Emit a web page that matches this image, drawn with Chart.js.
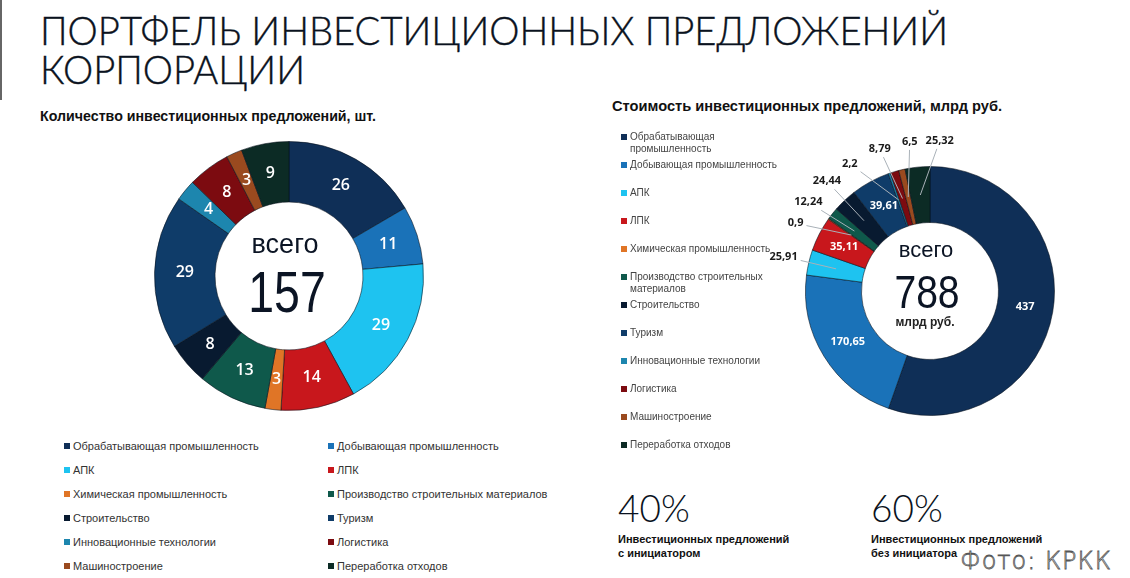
<!DOCTYPE html>
<html lang="ru">
<head>
<meta charset="utf-8">
<title>Портфель инвестиционных предложений корпорации</title>
<script src="https://cdn.jsdelivr.net/npm/chart.js@4.4.1/dist/chart.umd.min.js"></script>
<style>
  html, body { margin: 0; padding: 0; background: #fff; }
  #page { position: relative; width: 1130px; height: 578px; overflow: hidden;
          font-family: "Liberation Sans", Arial, sans-serif; color: #0b1424; }
  .edge { position: absolute; left: 0; top: 0; width: 2px; height: 100px; background: #666; }
  #title { position: absolute; left: 40px; top: 11px; font-family: Lato, "Open Sans", sans-serif;
           font-weight: 300; font-size: 40px; line-height: 39px; white-space: nowrap;
           transform-origin: 0 0; color: #0a1220; -webkit-text-stroke: 0.4px #0a1220; }
  .sub { position: absolute; font-weight: bold; font-size: 14px; white-space: nowrap; color: #111;
         transform-origin: 0 0; }
  .box { position: absolute; }
  .center { position: absolute; text-align: center; white-space: nowrap; color: #0b1424; }
  .legend-bottom { position: absolute; left: 64px; top: 439px; width: 520px;
                   display: grid; grid-template-columns: 264px 256px; grid-auto-rows: 24px;
                   font-size: 11px; color: #333; }
  .legend-side { position: absolute; left: 621px; top: 131px; width: 160px; font-size: 10px; color: #444; }
  .legend-side .item { height: 28px; display: flex; align-items: flex-start; line-height: 12px; }
  .legend-bottom .item { display: flex; align-items: flex-start; line-height: 14px; }
  .sw { flex: none; width: 6px; height: 6px; margin-right: 3px; }
  .legend-bottom .sw { margin-top: 4px; }
  .legend-side .sw { margin-top: 3px; }
  .share { position: absolute; }
  .share .pct { font-family: Lato, "Open Sans", sans-serif; font-weight: 300; font-size: 37px; line-height: 40px; color: #0a1220; }
  .share .txt { font-weight: bold; font-size: 11px; line-height: 14px; color: #111; margin-top: 4px; }
  .photo { position: absolute; left: 960px; top: 547px; font-family: "DejaVu Sans", sans-serif;
           font-weight: 200; font-size: 24px; letter-spacing: 1px; color: #fff;
           -webkit-text-stroke: 0.8px #555; white-space: nowrap; }
</style>
</head>
<body>
<div id="page">
  <div class="edge"></div>
  <div id="title"><div id="titleLine1">ПОРТФЕЛЬ ИНВЕСТИЦИОННЫХ ПРЕДЛОЖЕНИЙ</div><div>КОРПОРАЦИИ</div></div>
  <div class="sub" id="subLeft" style="left:40px; top:108px;">Количество инвестиционных предложений, шт.</div>
  <div class="sub" id="subRight" style="left:612px; top:98px;">Стоимость инвестиционных предложений, млрд руб.</div>

  <div class="box" style="left:154px; top:141px; width:270px; height:270px;"><canvas id="countChart"></canvas></div>
  <div class="box" style="left:745px; top:106px; width:370px; height:370px;"><canvas id="costChart"></canvas></div>

  <div class="center" style="left:225px; top:228px; width:120px; font-size:27px; line-height:32px;">всего</div>
  <div class="center" id="countTotal" style="left:207px; top:262px; width:160px; font-size:58px; line-height:60px; transform:scaleX(0.8);"></div>

  <div class="center" style="left:866px; top:237px; width:120px; font-size:22px; line-height:26px;">всего</div>
  <div class="center" id="costTotal" style="left:857px; top:267px; width:140px; font-size:46px; line-height:50px; transform:scaleX(0.85);"></div>
  <div class="center" style="left:865px; top:314px; width:120px; font-size:12px; line-height:16px; font-weight:bold; color:#222;">млрд руб.</div>

  <div class="legend-bottom" id="legendLeft"></div>
  <div class="legend-side" id="legendRight"></div>

  <div class="share" id="share0" style="left:618px; top:488px;"></div>
  <div class="share" id="share1" style="left:871px; top:488px;"></div>

  <div class="photo">Фото: КРКК</div>
</div>

<script>
// === Data ===
const categories = [
  'Обрабатывающая промышленность',
  'Добывающая промышленность',
  'АПК',
  'ЛПК',
  'Химическая промышленность',
  'Производство строительных материалов',
  'Строительство',
  'Туризм',
  'Инновационные технологии',
  'Логистика',
  'Машиностроение',
  'Переработка отходов'
];
const countValues = [26, 11, 29, 14, 3, 13, 8, 29, 4, 8, 3, 9];
const costValues = [437, 170.65, 25.91, 35.11, 0.9, 12.24, 24.44, 39.61, 2.2, 8.79, 6.5, 25.32];
const countTotal = 157;
const costTotal = 788;
const shareValues = [40, 60];
const shareLabels = ['Инвестиционных предложений\nс инициатором', 'Инвестиционных предложений\nбез инициатора'];

const palette = [
  '#0f2f57', '#1a72b8', '#1ec3f0', '#c8171c', '#e07526', '#0f594b',
  '#081a30', '#0f3c69', '#1d86ae', '#7c0b10', '#9a4a1f', '#0c2b25'
];

const fmt = v => String(v).replace('.', ',');

// === Slice labels (inside + outside with leader lines) ===
const sliceLabels = {
  id: 'sliceLabels',
  afterDatasetsDraw(chart, args, opts) {
    const ctx = chart.ctx;
    const meta = chart.getDatasetMeta(0);
    const values = chart.data.datasets[0].data;
    const outside = [];
    ctx.save();
    ctx.textAlign = 'center';
    ctx.textBaseline = 'middle';

    meta.data.forEach((arc, i) => {
      const p = arc.getProps(['x', 'y', 'startAngle', 'endAngle', 'innerRadius', 'outerRadius'], true);
      const mid = (p.startAngle + p.endAngle) / 2;
      const r = (p.innerRadius + p.outerRadius) / 2;
      const text = fmt(values[i]);
      if (values[i] >= opts.minInside) {
        ctx.font = opts.font;
        ctx.fillStyle = opts.color;
        ctx.fillText(text, p.x + Math.cos(mid) * r, p.y + Math.sin(mid) * r);
      } else {
        const R = p.outerRadius + opts.outsideGap;
        outside.push({
          text, mid, cx: p.x, cy: p.y, R,
          ax: p.x + Math.cos(mid) * r, ay: p.y + Math.sin(mid) * r,
          x: p.x + Math.cos(mid) * R, y: p.y + Math.sin(mid) * R
        });
      }
    });

    if (outside.length) {
      ctx.font = opts.outsideFont;
      // side labels: spread vertically
      const side = outside.filter(l => Math.abs(Math.sin(l.mid)) <= 0.9).sort((a, b) => a.y - b.y);
      for (let k = 1; k < side.length; k++) {
        side[k].y = Math.max(side[k].y, side[k - 1].y + 21);
      }
      side.forEach(l => {
        const dy = l.y - l.cy;
        const dx = Math.sqrt(Math.max(l.R * l.R - dy * dy, 0));
        l.x = l.cx + (Math.cos(l.mid) < 0 ? -dx : dx);
      });
      // top labels: spread horizontally around their mean
      const top = outside.filter(l => Math.abs(Math.sin(l.mid)) > 0.9).sort((a, b) => a.x - b.x);
      if (top.length) {
        const mean0 = top.reduce((s, l) => s + l.x, 0) / top.length;
        for (let k = 1; k < top.length; k++) top[k].x = Math.max(top[k].x, top[k - 1].x + 30);
        const shift = mean0 - top.reduce((s, l) => s + l.x, 0) / top.length;
        top.forEach(l => {
          l.x += shift;
          const dx = l.x - l.cx;
          const dy = Math.sqrt(Math.max(l.R * l.R - dx * dx, 0));
          l.y = l.cy + (Math.sin(l.mid) < 0 ? -dy : dy);
        });
      }

      outside.forEach(l => {
        const hw = ctx.measureText(l.text).width / 2 + 3;
        const hh = 8;
        const dx = l.ax - l.x, dy = l.ay - l.y;
        const t = Math.min(dx ? hw / Math.abs(dx) : Infinity, dy ? hh / Math.abs(dy) : Infinity);
        ctx.strokeStyle = opts.leaderColor;
        ctx.lineWidth = 1;
        ctx.beginPath();
        ctx.moveTo(l.x + dx * t, l.y + dy * t);
        ctx.lineTo(l.ax, l.ay);
        ctx.stroke();
        ctx.fillStyle = opts.outsideColor;
        ctx.fillText(l.text, l.x, l.y);
      });
    }
    ctx.restore();
  }
};

function donut(id, values, labelOpts, padding) {
  return new Chart(document.getElementById(id), {
    type: 'doughnut',
    data: {
      labels: categories,
      datasets: [{
        data: values,
        backgroundColor: palette,
        borderColor: 'rgba(5,15,25,0.55)',
        borderWidth: 1,
        hoverOffset: 0,
        offset: 0
      }]
    },
    options: {
      responsive: true,
      maintainAspectRatio: false,
      animation: false,
      cutout: '55%',
      layout: { padding: padding },
      events: [],
      plugins: {
        legend: { display: false },
        tooltip: { enabled: false },
        sliceLabels: labelOpts
      }
    },
    plugins: [sliceLabels]
  });
}

const countChart = donut('countChart', countValues, {
  minInside: 0,
  font: '600 16px "Open Sans", sans-serif',
  color: '#ffffff',
  outsideGap: 20, outsideFont: '', outsideColor: '#222', leaderColor: '#aaa'
}, 0);

const costChart = donut('costChart', costValues, {
  minInside: 30,
  font: 'bold 11px "Open Sans", sans-serif',
  color: '#ffffff',
  outsideGap: 26,
  outsideFont: 'bold 11px "Open Sans", sans-serif',
  outsideColor: '#1a1a1a',
  leaderColor: '#a9b1b8'
}, 60);

// === Centre totals ===
document.getElementById('countTotal').textContent = countTotal;
document.getElementById('costTotal').textContent = costTotal;

// === HTML legends built from the chart's legend items ===
function buildLegend(chart, el) {
  const items = chart.options.plugins.legend.labels.generateLabels(chart);
  items.forEach(it => {
    const row = document.createElement('div');
    row.className = 'item';
    const sw = document.createElement('span');
    sw.className = 'sw';
    sw.style.background = it.fillStyle;
    const tx = document.createElement('span');
    tx.textContent = it.text;
    row.appendChild(sw);
    row.appendChild(tx);
    el.appendChild(row);
  });
}
buildLegend(countChart, document.getElementById('legendLeft'));
buildLegend(costChart, document.getElementById('legendRight'));

// === Shares ===
shareValues.forEach((v, i) => {
  const el = document.getElementById('share' + i);
  el.innerHTML = '<div class="pct">' + v + '%</div><div class="txt">' +
    shareLabels[i].replace('\n', '<br>') + '</div>';
});

// === Fit headings to the reference widths ===
function fitWidth(el, target) {
  const w = el.getBoundingClientRect().width;
  if (w > 0) el.style.transform = 'scaleX(' + (target / w) + ')';
}
fitWidth(document.getElementById('subLeft'), 336);
fitWidth(document.getElementById('subRight'), 390);
const w1 = document.getElementById('titleLine1').getBoundingClientRect().width;
document.getElementById('title').style.transform = 'scaleX(' + (908 / w1) + ')';
</script>
</body>
</html>
